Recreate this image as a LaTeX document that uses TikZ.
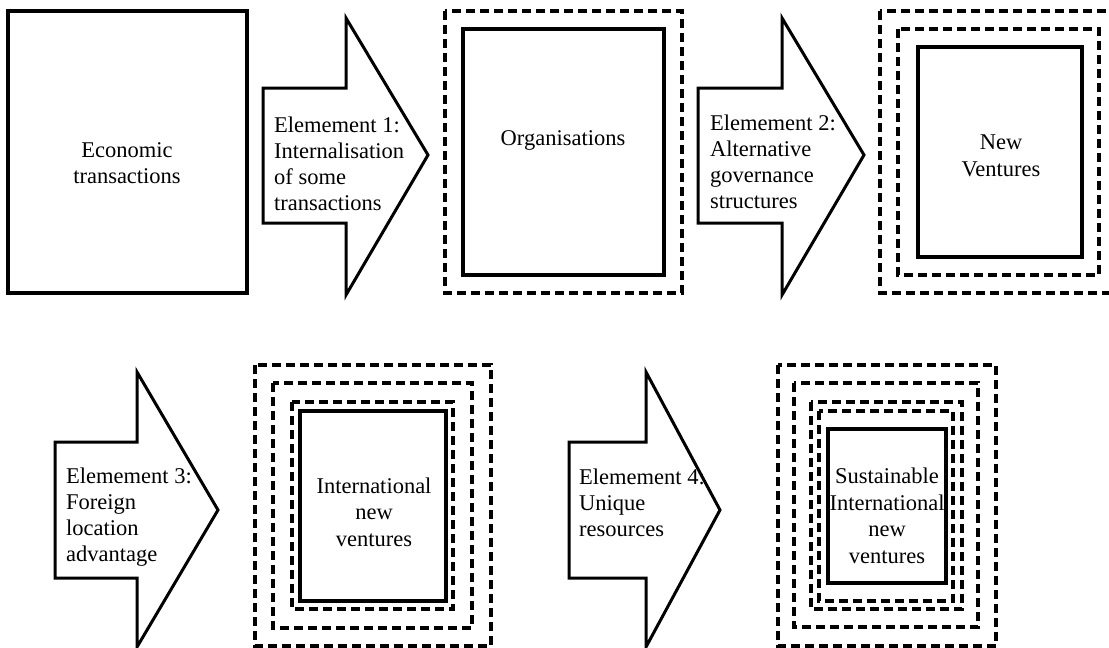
\documentclass[tikz,border=0pt]{standalone}
\usepackage{fontspec}
\setmainfont{Liberation Serif}
\begin{document}
\begin{tikzpicture}[x=1pt,y=-1pt,
  solidbox/.style={draw=black,line width=3.4pt},
  dashbox/.style={draw=black,line width=3.2pt,dash pattern=on 9pt off 5pt},
  arrowshape/.style={draw=black,line width=3pt,fill=white,line join=miter},
  lbl/.style={font=\fontsize{22.5}{26.5}\selectfont,align=center,inner sep=0pt},
  albl/.style={font=\fontsize{22.5}{26}\selectfont,align=left,anchor=west,inner sep=0pt}]
\useasboundingbox (0,0) rectangle (1109,648);
\fill[white] (0,0) rectangle (1109,648);

% Box 1
\draw[solidbox] (8,11) rectangle (247,293);
\node[lbl] (t1) at (127,163) {Economic\\transactions};

% Arrow 1
\draw[arrowshape] (263,88) -- (346,88) -- (346,18) -- (428,155) -- (346,295) -- (346,223) -- (263,223) -- cycle;
\node[albl] (a1) at (274,164) {Elemement 1:\\Internalisation\\of some\\transactions};

% Box 2
\draw[dashbox] (445,11) rectangle (682,293);
\draw[solidbox] (463,29) rectangle (664,275);
\node[lbl] (t2) at (563,140) {Organisations};

% Arrow 2
\draw[arrowshape] (698,88) -- (782,88) -- (782,18) -- (864,155) -- (782,295) -- (782,223) -- (698,223) -- cycle;
\node[albl] (a2) at (710,162) {Elemement 2:\\Alternative\\governance\\structures};

% Box 3
\draw[dashbox] (880,11) rectangle (1117,293);
\draw[dashbox] (898,29) rectangle (1099,275);
\draw[solidbox] (918,47) rectangle (1082,257);
\node[lbl] (t3) at (1001,156) {New\\Ventures};

% Arrow 3
\draw[arrowshape] (55,442) -- (137,442) -- (137,372) -- (218,510) -- (137,647) -- (137,578) -- (55,578) -- cycle;
\node[albl] (a3) at (66,517) {Elemement 3:\\Foreign\\location\\advantage};

% Box 4
\draw[dashbox] (255,365) rectangle (491,646);
\draw[dashbox] (273,383) rectangle (472,628);
\draw[dashbox] (292,402) rectangle (453,609);
\draw[solidbox] (300,411) rectangle (446,601);
\node[lbl] (t4) at (374,512) {International\\new\\ventures};

% Arrow 4
\draw[arrowshape] (569,442) -- (646,442) -- (646,372) -- (720,510) -- (646,647) -- (646,578) -- (569,578) -- cycle;
\node[albl] (a4) at (579,503) {Elemement 4:\\Unique\\resources};

% Box 5
\draw[dashbox] (778,365) rectangle (996,646);
\draw[dashbox] (794,383) rectangle (978,627);
\draw[dashbox] (811,402) rectangle (962,609);
\draw[dashbox] (819,411) rectangle (953,601);
\draw[solidbox] (828,429) rectangle (946,583);
\node[lbl] (t5) at (887,516) {Sustainable\\International\\new\\ventures};
\end{tikzpicture}
\end{document}
